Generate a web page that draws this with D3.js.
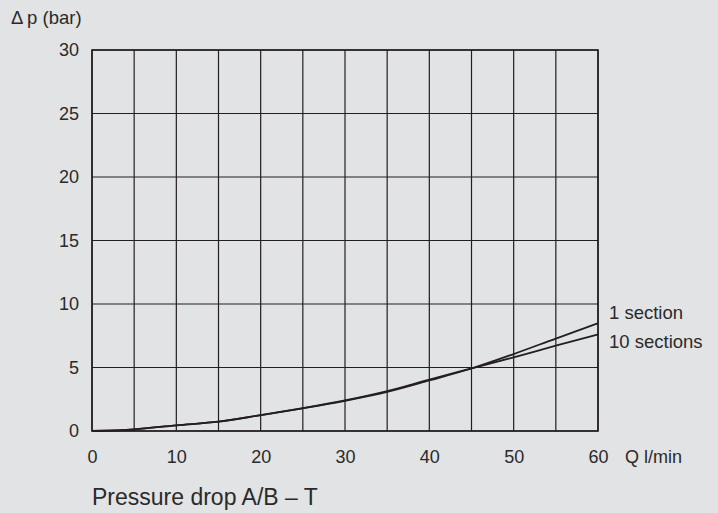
<!DOCTYPE html>
<html><head><meta charset="utf-8">
<script src="https://cdn.jsdelivr.net/npm/d3@7"></script>
<style>
html,body{margin:0;padding:0;background:#e2e3e4;}
svg{display:block;font-family:"Liberation Sans",Arial,sans-serif;}
</style></head>
<body>
<svg id="c" width="718" height="513"></svg>
<script>
const flow = [0,5,10,15,20,25,30,35,40,45,50,55,60];
const oneSection = [0,0.13,0.45,0.73,1.25,1.79,2.38,3.08,3.98,4.92,6.06,7.28,8.48];
const tenSections = [0,0.13,0.45,0.73,1.25,1.8,2.41,3.14,4.05,4.93,5.8,6.72,7.61];
const xTicks = [0,10,20,30,40,50,60];
const yTicks = [0,5,10,15,20,25,30];
const xGrid = d3.range(0,61,5);
const seriesNames = ["1 section","10 sections"];

const svg = d3.select("#c");
const m = {l:92,t:50,r:598,b:431};
const x = d3.scaleLinear().domain([0,60]).range([m.l,m.r]);
const y = d3.scaleLinear().domain([0,30]).range([m.b,m.t]);
const ink = "#231f20";
const txt = "#2a2a2a";
const font = '"Liberation Sans",Arial,sans-serif';

const g = svg.append("g");
g.selectAll("line.v").data(xGrid).join("line")
  .attr("x1",d=>x(d)).attr("x2",d=>x(d)).attr("y1",m.t).attr("y2",m.b)
  .attr("stroke",ink).attr("stroke-width",1.2);
g.selectAll("line.h").data(yTicks).join("line")
  .attr("y1",d=>y(d)).attr("y2",d=>y(d)).attr("x1",m.l).attr("x2",m.r)
  .attr("stroke",ink).attr("stroke-width",1.2);
g.append("rect").attr("x",m.l).attr("y",m.t).attr("width",m.r-m.l).attr("height",m.b-m.t)
  .attr("fill","none").attr("stroke",ink).attr("stroke-width",1.6);

const xAxis = svg.append("g").attr("transform",`translate(0,${m.b})`)
  .call(d3.axisBottom(x).tickValues(xTicks).tickSize(0).tickPadding(19));
const yAxis = svg.append("g").attr("transform",`translate(${m.l},0)`)
  .call(d3.axisLeft(y).tickValues(yTicks).tickSize(0).tickPadding(13));
[xAxis,yAxis].forEach(a=>{
  a.select(".domain").remove();
  a.selectAll("text").attr("font-size",18).attr("fill",txt).attr("font-family",font);
});

const line = d3.line().x((d,i)=>x(flow[i])).y(d=>y(d)).curve(d3.curveMonotoneX);
[oneSection,tenSections].forEach(s=>{
  svg.append("path").attr("d",line(s)).attr("fill","none").attr("stroke",ink).attr("stroke-width",1.8);
});

svg.append("text").attr("x",609).attr("y",319).attr("font-size",18.5).attr("fill",txt).text(seriesNames[0]);
svg.append("text").attr("x",609).attr("y",348).attr("font-size",18.5).attr("fill",txt).text(seriesNames[1]);
svg.append("text").attr("x",625).attr("y",462.5).attr("font-size",18).attr("fill",txt).text("Q l/min");
svg.append("text").attr("x",11).attr("y",24).attr("font-size",18.5).attr("fill",txt).text("\u0394\u2009p (bar)");
svg.append("text").attr("x",92).attr("y",505).attr("font-size",23).attr("fill",txt).text("Pressure drop A/B \u2013 T");
</script>
</body></html>
